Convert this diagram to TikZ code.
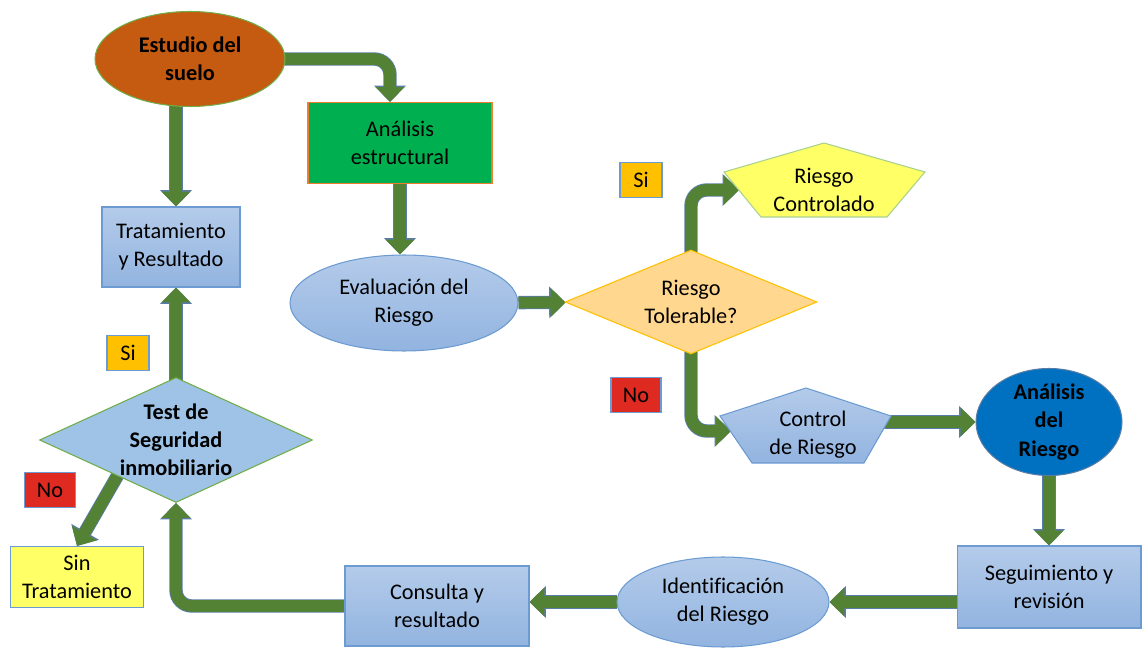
\documentclass[tikz,border=0pt]{standalone}
\usepackage{fontspec}
\setmainfont{Carlito}[Ligatures=CommonOff]
\usetikzlibrary{shapes.geometric,arrows.meta,backgrounds}

\definecolor{cafe}{HTML}{C55A11}
\definecolor{verdeborde}{HTML}{70AD47}
\definecolor{verdecaja}{HTML}{00B050}
\definecolor{naranjaborde}{HTML}{ED7D31}
\definecolor{azulclaro}{HTML}{B4CBEA}
\definecolor{azulmedio}{HTML}{92B4E0}
\definecolor{azulborde}{HTML}{6C9BD2}
\definecolor{amarillo}{HTML}{FFFF66}
\definecolor{verdeclaro}{HTML}{A9D18E}
\definecolor{naranjaclaro}{HTML}{FFD78E}
\definecolor{oro}{HTML}{FFC000}
\definecolor{rojo}{HTML}{DF2A22}
\definecolor{azulfuerte}{HTML}{0070C0}
\definecolor{celeste}{HTML}{9FC3E7}
\definecolor{flechaverde}{HTML}{548235}
\definecolor{flechaborde}{HTML}{5A7DA8}

\begin{document}
\begin{tikzpicture}[x=0.02cm, y=-0.02cm,
    every node/.style={font=\fontsize{12.7}{16}\selectfont, align=center, inner sep=0pt, line width=0.6pt},
    negrita/.style={font=\fontsize{12.7}{16}\selectfont\bfseries},
    cajaazul/.style={rectangle, draw=azulborde, top color=azulclaro, bottom color=azulmedio},
    elipseazul/.style={ellipse, draw=azulborde, top color=azulclaro, bottom color=azulmedio},
    etiqueta/.style={rectangle, draw=azulborde, minimum height=0.7cm},
    flecha/.style={line width=6.6pt, draw=flechaverde, rounded corners=9pt,
        -{Triangle[width=16pt,length=8.5pt]},
        preaction={draw=flechaborde, line width=7.6pt, -{Triangle[width=17.6pt,length=9.3pt]}}}
]
\useasboundingbox (0,0) rectangle (1146,648);

\node[ellipse, negrita, draw=verdeborde, fill=cafe, minimum width=3.8cm, minimum height=1.9cm] (estudio) at (190,59) {Estudio del\\suelo};
\node[rectangle, draw=naranjaborde, fill=verdecaja, minimum width=3.68cm, minimum height=1.62cm] (analisis) at (400,143) {Análisis\\estructural};
\node[cajaazul, minimum width=2.76cm, minimum height=1.6cm] (trat) at (171,247) {Tratamiento\\y Resultado};
\node[elipseazul, minimum width=4.56cm, minimum height=1.92cm] (evaluacion) at (404,303) {Evaluación del\\Riesgo};
\node[diamond, aspect=2.4, draw=oro, fill=naranjaclaro, minimum width=5.04cm, minimum height=2.08cm] (tolerable) at (691,302) {Riesgo\\Tolerable?};

\filldraw[draw=verdeclaro, fill=amarillo, line width=0.6pt] (824,143) -- (925,172) -- (887,217) -- (761,217) -- (724,172) -- cycle;
\node (controlado) at (824,190) {Riesgo\\Controlado};
\coordinate (controlado-o) at (739,190);

\path[draw=azulborde, top color=azulclaro, bottom color=azulmedio, line width=0.6pt] (806,388) -- (891,416) -- (864,463) -- (752,463) -- (720,416) -- cycle;
\node (control) at (813,435) {Control\\de Riesgo};
\coordinate (control-o) at (731,431);

\node[ellipse, negrita, draw=azulborde!80!black, fill=azulfuerte, minimum width=2.92cm, minimum height=1.9cm] (analisisr) at (1049,422) {Análisis\\del\\Riesgo};
\node[cajaazul, minimum width=3.68cm, minimum height=1.64cm] (seguimiento) at (1049,587) {Seguimiento y\\revisión};
\node[elipseazul, minimum width=4.24cm, minimum height=1.8cm] (identif) at (723,602) {Identificación\\del Riesgo};
\node[cajaazul, minimum width=3.68cm, minimum height=1.6cm] (consulta) at (437,606) {Consulta y\\resultado};
\node[diamond, negrita, aspect=2.2, inner sep=-12pt, draw=verdeborde, fill=celeste, minimum width=5.46cm, minimum height=2.5cm] (test) at (176,440) {Test de\\Seguridad\\inmobiliario};
\node[rectangle, draw=azulborde, fill=amarillo, minimum width=2.66cm, minimum height=1.22cm] (sintrat) at (77,577) {Sin\\Tratamiento};

\node[etiqueta, fill=oro, minimum width=0.84cm] (si-arriba) at (641,180) {Si};
\node[etiqueta, fill=rojo, minimum width=1cm] (no-medio) at (636,395) {No};
\node[etiqueta, fill=oro, minimum width=0.84cm] (si-izq) at (128,353) {Si};
\node[etiqueta, fill=rojo, minimum width=1.02cm] (no-izq) at (50,490) {No};

\begin{scope}[on background layer]
\draw[flecha] ([xshift=0.1cm]trat.center |- estudio) -- ([xshift=0.1cm]trat.north);
\draw[flecha] (estudio.center) -| ([xshift=-0.2cm]analisis.north);
\draw[flecha] (analisis.center) -- (analisis.center |- evaluacion.north);
\draw[flecha] (evaluacion) -- (tolerable);
\draw[flecha] (tolerable.center) |- (controlado-o);
\draw[flecha] (tolerable.center) |- (control-o);
\draw[flecha] (control |- analisisr) -- (analisisr);
\draw[flecha] (analisisr) -- (seguimiento);
\draw[flecha] (seguimiento.center |- identif) -- (identif);
\draw[flecha] (identif) -- (identif -| consulta.east);
\draw[flecha] (consulta.center) -| (test);
\draw[flecha] (test.center) -- (test.center |- trat.south);
\draw[flecha] ([xshift=-0.76cm]test.center) -- (sintrat.north);
\end{scope}

\end{tikzpicture}
\end{document}
